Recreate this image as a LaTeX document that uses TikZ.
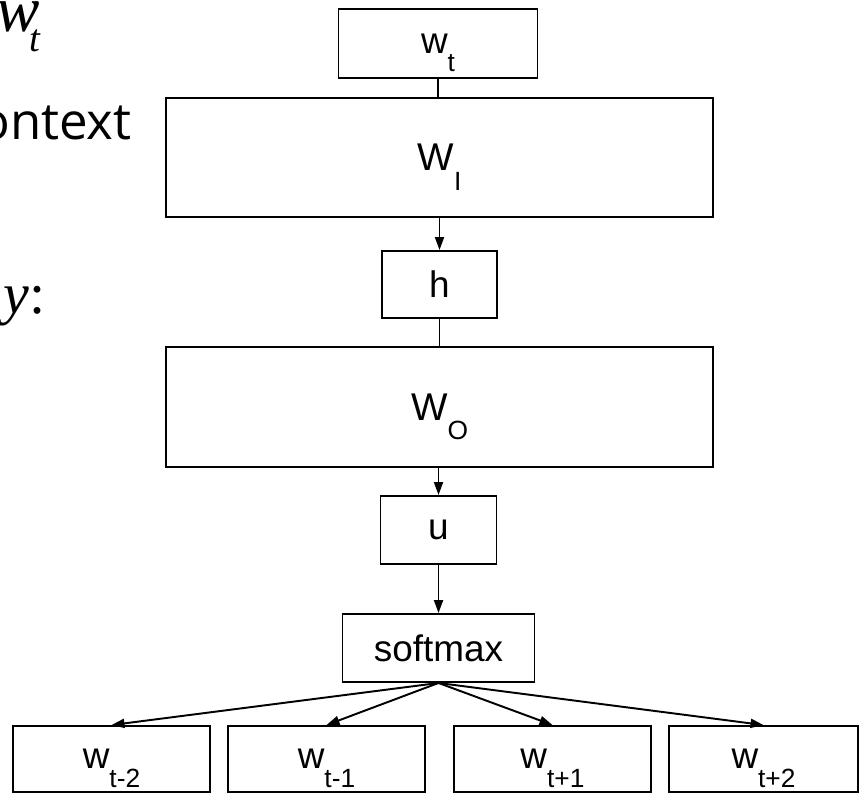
\documentclass[tikz,border=0pt]{standalone}
\usepackage{fontspec}
\setmainfont{Liberation Sans}
\newfontfamily\slidefont{Open Sans}
\newfontfamily\formulafont{Liberation Serif}
\usetikzlibrary{arrows.meta, positioning}
\newcommand{\lowsub}[1]{\raisebox{-0.5em}[0pt][0pt]{\fontsize{15}{15}\selectfont #1}}
\tikzset{
  layerbox/.style={draw=black, line width=1.1pt, minimum width=10.94cm, minimum height=2.39cm, inner sep=0pt, font=\fontsize{22}{22}\selectfont},
  vecbox/.style={draw=black, line width=1.1pt, minimum height=1.36cm, inner sep=0pt, font=\fontsize{21}{21}\selectfont},
  link/.style={line width=1.1pt},
  flow/.style={line width=1.1pt, -{Triangle[length=0.26cm, width=0.18cm]}}
}

\begin{document}
\begin{tikzpicture}
  % Page frame
  \useasboundingbox (0,0) rectangle (17.3,-15.88);
  \clip (0,0) rectangle (17.3,-15.88);

  % Slide text cut off at the left edge
  \node[anchor=base west, inner sep=0pt, font=\formulafont\itshape\fontsize{37}{37}\selectfont] (wleft) at (-0.08,-0.64) {w\kern-5.6pt\raisebox{-11pt}{\fontsize{22}{22}\selectfont t}};
  \node[anchor=base east, inner sep=0pt, font=\slidefont\fontsize{29}{29}\selectfont] (ctx) at (2.64,-2.80) {context};
  \node[anchor=base west, inner sep=0pt, font=\formulafont\fontsize{33}{33}\selectfont] (ylab) at (0.06,-6.26) {\textit{y}:};

  % Network stack
  \node[vecbox, minimum width=3.98cm, minimum height=1.38cm] (wt) at (8.76,-0.87) {\raisebox{-5pt}{w\lowsub{t}}};
  \node[layerbox] (WI) at (8.79,-3.15) {W\lowsub{I}};
  \node[vecbox, minimum width=2.30cm, minimum height=1.34cm] (hid) at (8.79,-5.69) {h};
  \node[layerbox] (WO) at (8.79,-8.14) {W\lowsub{O}};
  \node[vecbox, minimum width=2.32cm] (u) at (8.77,-10.60) {u};
  \node[vecbox, minimum width=3.84cm] (soft) at (8.77,-12.96) {softmax};

  % Context words
  \node[vecbox, minimum width=3.94cm, minimum height=1.32cm] (wtm2) at (2.23,-15.18) {w\lowsub{t-2}};
  \node[vecbox, minimum width=3.94cm, minimum height=1.32cm] (wtm1) at (6.53,-15.18) {w\lowsub{t-1}};
  \node[vecbox, minimum width=3.94cm, minimum height=1.32cm] (wtp1) at (11.05,-15.18) {w\lowsub{t+1}};
  \node[vecbox, minimum width=3.78cm, minimum height=1.32cm] (wtp2) at (15.27,-15.18) {w\lowsub{t+2}};

  % Connectors
  \draw[link] (wt.south) -- (wt.south |- WI.north);
  \draw[flow] (WI.south -| hid.north) -- (hid.north);
  \draw[link] (hid.south) -- (hid.south |- WO.north);
  \draw[flow] (WO.south -| u.north) -- (u.north);
  \draw[flow] (u.south) -- (soft.north);
  \draw[flow] (soft.south) -- (wtm2.north);
  \draw[flow] (soft.south) -- (wtm1.north);
  \draw[flow] (soft.south) -- (wtp1.north);
  \draw[flow] (soft.south) -- (wtp2.north);
\end{tikzpicture}
\end{document}
